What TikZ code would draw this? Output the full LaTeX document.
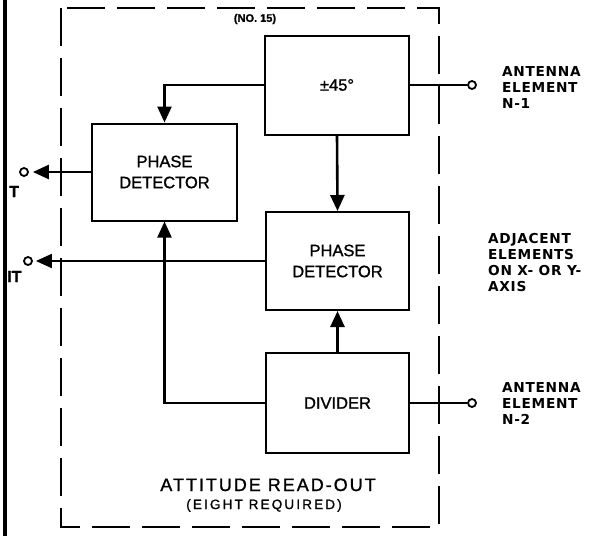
\documentclass[tikz,border=0pt]{standalone}
\usepackage{fontspec}
\setmainfont{Liberation Sans}
\newfontfamily\boxfont[FakeBold=1.2]{Liberation Sans}
\newfontfamily\lblfont[LetterSpace=5]{DejaVu Sans Bold}
\newfontfamily\titlefont[LetterSpace=11,FakeBold=1.2]{Liberation Sans}
\newfontfamily\subfont[LetterSpace=16,FakeBold=1]{Liberation Sans}
\usetikzlibrary{arrows.meta}
\begin{document}
\begin{tikzpicture}[x=1pt,y=-1pt,
  blk/.style={draw, line width=2pt, minimum width=144pt, minimum height=99pt, inner sep=0pt,
    align=center, font=\boxfont\fontsize{16.5}{21}\selectfont},
  arr/.style={line width=2.6pt, -{Triangle[length=16pt,width=14pt]}},
  wire/.style={line width=2.6pt},
  thinwire/.style={line width=1.6pt},
  term/.style={draw, circle, line width=1.8pt, minimum size=8pt, inner sep=0pt, fill=white},
  lbl/.style={anchor=base west, inner sep=0pt, align=left, font=\lblfont\fontsize{13.7}{16}\selectfont},
  side/.style={anchor=base west, inner sep=0pt, font=\boxfont\bfseries\fontsize{16}{16}\selectfont}
]
\useasboundingbox (0,0) rectangle (591,536);
% left edge thick line
\draw[line width=4pt] (5,0) -- (5,536);
% dashed enclosure
\draw[line width=2pt, dash pattern=on 38pt off 12pt] (61,8) rectangle (439,527);
% blocks
\node[blk] (t45) at (337,85) {±45°};
\node[blk, minimum width=145pt, minimum height=97pt] (pd1) at (164.5,172) {PHASE\\DETECTOR};
\node[blk, minimum width=143pt, minimum height=98pt] (pd2) at (337.5,261) {PHASE\\DETECTOR};
\node[blk, minimum width=143pt, minimum height=100pt] (div) at (337.5,403) {DIVIDER};
% terminals
\node[term] (c1) at (24,172) {};
\node[term] (c2) at (28,261) {};
\node[term] (a1) at (472,85) {};
\node[term] (a2) at (472,403) {};
% connectors
\draw[arr] (t45.west) -| (pd1.north);
\draw[arr] (t45.south) -- (pd2.north);
\draw[arr] (div.north) -- (pd2.south);
\draw[arr, line width=2.2pt] (div.west) -| (pd1.south);
\draw[arr, shorten >=4pt] (pd1.west) -- (c1.east);
\draw[arr, line width=2pt, shorten >=3pt] (pd2.west) -- (c2.east);
\draw[wire] (t45.east) -- (a1.west);
\draw[thinwire] (div.east) -- (a2.west);
% labels
\node[font=\boxfont\bfseries\fontsize{11}{11}\selectfont, inner sep=0pt] (no) at (255,19) {(NO. 15)};
\node[lbl] (l1) at (502,108) {ANTENNA\\ELEMENT\\N-1};
\node[lbl] (l2) at (488,291) {ADJACENT\\ELEMENTS\\ON X- OR Y-\\AXIS};
\node[lbl] (l3) at (502,424) {ANTENNA\\ELEMENT\\N-2};
\node[anchor=base, inner sep=0pt, font=\titlefont\fontsize{18}{18}\selectfont] (ti) at (268,491) {ATTITUDE READ-OUT};
\node[anchor=base, inner sep=0pt, font=\subfont\fontsize{13.5}{14}\selectfont] (st) at (264,509) {(EIGHT REQUIRED)};
\node[side] (s1) at (9,197) {T};
\node[side] (s2) at (7,282) {IT};
\end{tikzpicture}
\end{document}
